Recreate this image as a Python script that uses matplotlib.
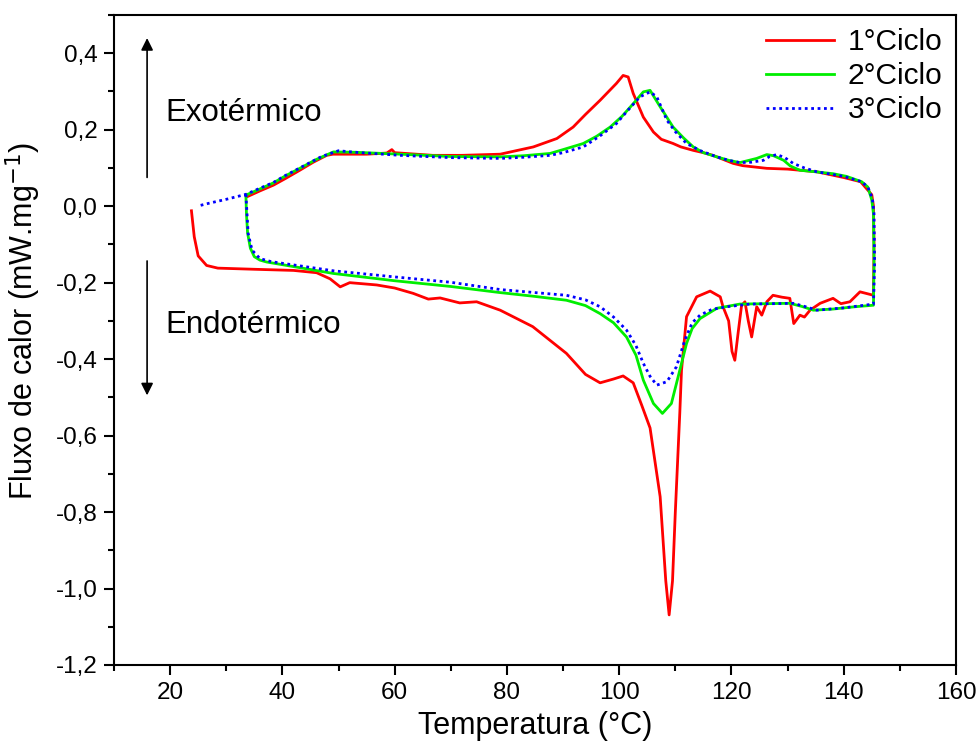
import numpy as np
import matplotlib.pyplot as plt

plt.rcParams['font.family'] = ['Liberation Sans', 'DejaVu Sans']

# 1° ciclo (aquecimento -> resfriamento)
t1 = [23.8, 24.3, 25.0, 26.5, 28.5, 35, 42, 46.1, 48.5, 50.3, 52.0, 56.8, 60, 63.3, 66.0,
      68.1, 71.6, 74.6, 78.8, 84.6, 90.6, 94, 96.6, 99, 100.7, 102.5, 104.0, 105.5, 107.3,
      108.3, 108.9, 109.5, 110.0, 110.8, 111.1, 112.0, 113.8, 116.2, 118.0, 118.5, 119.5,
      120.1, 120.6, 121.2, 121.8, 122.4, 123.0, 123.6, 124.5, 125.4, 126.3, 127.4, 129.0,
      130.4, 131.1, 132.2, 133.0, 134.0, 135.8, 138.1, 139.5, 141.1, 142.9, 145.3, 145.4,
      145.3, 145.0, 143.0, 140, 135.2, 130, 126.3, 122, 120.3, 116.7, 115, 113.2, 111, 109.6,
      107.5, 106.1, 104.3, 102.5, 101.6, 100.7, 99.5, 96.6, 94, 91.8, 88.9, 84.7, 78.8, 72,
      66.8, 60, 59.5, 58.6, 55, 49, 47.9, 45.5, 43.1, 40.5, 38.4, 36, 33.6]
f1 = [-0.012, -0.08, -0.13, -0.155, -0.162, -0.165, -0.168, -0.174, -0.19, -0.211, -0.200,
      -0.206, -0.214, -0.228, -0.243, -0.240, -0.253, -0.250, -0.272, -0.315, -0.385, -0.44,
      -0.462, -0.452, -0.444, -0.462, -0.52, -0.580, -0.76, -0.98, -1.069, -0.98, -0.80,
      -0.54, -0.43, -0.289, -0.237, -0.222, -0.237, -0.263, -0.30, -0.38, -0.403, -0.33,
      -0.26, -0.25, -0.30, -0.342, -0.263, -0.285, -0.250, -0.233, -0.238, -0.241, -0.307,
      -0.285, -0.29, -0.272, -0.254, -0.241, -0.255, -0.250, -0.224, -0.233, -0.10, 0.0,
      0.03, 0.064, 0.075, 0.09, 0.097, 0.099, 0.106, 0.112, 0.133, 0.14, 0.146, 0.155,
      0.164, 0.175, 0.194, 0.233, 0.295, 0.338, 0.342, 0.321, 0.277, 0.24, 0.207, 0.177,
      0.155, 0.136, 0.133, 0.133, 0.14, 0.148, 0.139, 0.136, 0.136, 0.133, 0.115, 0.094,
      0.072, 0.055, 0.04, 0.024]

# 2° ciclo
t2 = [33.5, 33.6, 33.8, 34.3, 35.0, 36.0, 37.2, 42, 49.1, 60, 70, 78.8, 85, 90.6, 94, 96.6,
      99, 101.3, 103, 104.3, 106.1, 107.7, 109.3, 110.8, 112.0, 113, 114.4, 117.4, 121.5,
      126, 130.4, 132.5, 134.6, 138.1, 142, 145.3, 145.4, 145.3, 145.0, 144.3, 143.2, 140.5,
      138.1, 135, 132.2, 130.5, 129.3, 127.5, 126.3, 124.5, 121.5, 119.5, 117.4, 115, 113.2,
      111.5, 109.6, 107.3, 105.5, 104.3, 102.5, 100.5, 98.4, 96, 93.6, 90, 87.7, 83, 78.8,
      70, 61, 53, 49.1, 46, 43.1, 40.5, 38.4, 36, 33.5]
f2 = [0.029, -0.02, -0.07, -0.11, -0.132, -0.141, -0.146, -0.158, -0.176, -0.195, -0.21,
      -0.226, -0.236, -0.246, -0.26, -0.281, -0.305, -0.342, -0.39, -0.455, -0.516, -0.542,
      -0.516, -0.429, -0.359, -0.32, -0.294, -0.267, -0.256, -0.255, -0.254, -0.262, -0.272,
      -0.269, -0.263, -0.259, -0.15, -0.02, 0.016, 0.05, 0.064, 0.078, 0.085, 0.09, 0.094,
      0.105, 0.12, 0.132, 0.135, 0.125, 0.114, 0.12, 0.129, 0.14, 0.155, 0.178, 0.207, 0.26,
      0.303, 0.299, 0.268, 0.235, 0.207, 0.183, 0.164, 0.148, 0.138, 0.132, 0.129, 0.13,
      0.136, 0.141, 0.142, 0.122, 0.099, 0.079, 0.061, 0.045, 0.029]

# 3° ciclo
t3 = [33.5, 33.7, 33.9, 34.6, 36.0, 38, 49.1, 60, 70, 78.8, 85, 90.6, 94, 96.6, 99, 101.3,
      103, 104.3, 105.5, 106.7, 108.5, 110.2, 111.7, 113, 114.4, 116.5, 119.2, 123.3, 131,
      133, 135.2, 140, 145.3, 145.5, 145.4, 145.1, 144.3, 143.2, 140, 135.2, 133, 131, 129.5,
      128.1, 126.8, 125.7, 123.5, 121.5, 119.5, 117.4, 114.5, 112, 110, 108.5, 106.7, 105.5,
      103.7, 101.5, 99.5, 96.5, 93.6, 90, 87.7, 83, 78.8, 70, 61, 53, 50, 47, 43.1, 40.5,
      38.4, 36, 33.5, 30, 27, 25.1]
f3 = [0.031, -0.02, -0.071, -0.115, -0.137, -0.145, -0.169, -0.185, -0.199, -0.218, -0.226,
      -0.233, -0.245, -0.263, -0.29, -0.324, -0.365, -0.411, -0.445, -0.468, -0.459, -0.42,
      -0.35, -0.305, -0.285, -0.27, -0.263, -0.256, -0.254, -0.262, -0.272, -0.266, -0.256,
      -0.15, -0.02, 0.02, 0.05, 0.064, 0.078, 0.09, 0.1, 0.112, 0.127, 0.135, 0.13, 0.12,
      0.115, 0.114, 0.12, 0.129, 0.145, 0.164, 0.195, 0.225, 0.286, 0.299, 0.286, 0.25,
      0.216, 0.183, 0.155, 0.14, 0.133, 0.128, 0.125, 0.127, 0.133, 0.141, 0.145, 0.13, 0.1,
      0.08, 0.062, 0.047, 0.031, 0.018, 0.008, 0.001]

xticks = [20, 40, 60, 80, 100, 120, 140, 160]
yticks = [0.4, 0.2, 0.0, -0.2, -0.4, -0.6, -0.8, -1.0, -1.2]
ylabels = ['0,4', '0,2', '0,0', '-0,2', '-0,4', '-0,6', '-0,8', '-1,0', '-1,2']

fig = plt.figure(figsize=(9.8, 7.44), dpi=100)
ax = fig.add_axes([0.1163, 0.1062, 0.8592, 0.8736])

ax.plot(t1, f1, color='#ff0000', lw=2, label='1°Ciclo')
ax.plot(t2, f2, color='#00ee00', lw=2, label='2°Ciclo')
ax.plot(t3, f3, color='#0000ff', lw=2, linestyle=(0, (1, 1.3)), label='3°Ciclo')

# setas exo / endo
ax.annotate('', xy=(15.9, 0.447), xytext=(15.9, 0.068),
            arrowprops=dict(arrowstyle='-|>', color='k', lw=1.2, mutation_scale=18))
ax.annotate('', xy=(15.9, -0.502), xytext=(15.9, -0.136),
            arrowprops=dict(arrowstyle='-|>', color='k', lw=1.2, mutation_scale=18))
ax.text(19.1, 0.243, 'Exotérmico', fontsize=22.5, va='center', ha='left')
ax.text(19.1, -0.31, 'Endotérmico', fontsize=22.5, va='center', ha='left')

ax.set_xlim(10, 160)
ax.set_ylim(-1.2, 0.5)
ax.set_xticks(xticks)
ax.set_xticks(np.arange(10, 161, 10), minor=True)
ax.set_yticks(yticks)
ax.set_yticklabels(ylabels)
ax.set_yticks(np.arange(-1.2, 0.51, 0.1), minor=True)
ax.tick_params(which='major', direction='out', length=7, width=1.5, labelsize=17.5, pad=5)
ax.tick_params(which='minor', direction='out', length=4.5, width=1.5)
for s in ax.spines.values():
    s.set_linewidth(1.5)

ax.set_xlabel('Temperatura (°C)', fontsize=22)
ax.set_ylabel('Fluxo de calor (mW.mg$^{-1}$)', fontsize=22)
ax.xaxis.set_label_coords(0.5, -0.071)
ax.yaxis.set_label_coords(-0.084, 0.53)

ax.legend(loc='upper right', frameon=False, fontsize=21.5, handlelength=2.3,
          borderaxespad=0.05, labelspacing=0.2, handletextpad=0.45)

fig.savefig('out.png', dpi=100)
